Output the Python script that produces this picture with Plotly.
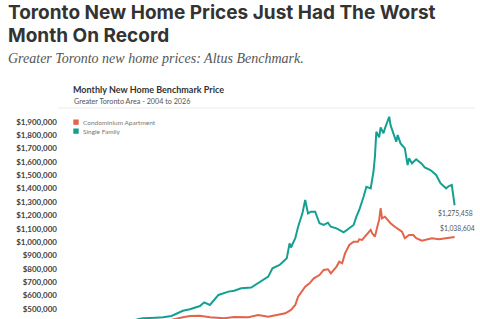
import plotly.graph_objects as go

W, H = 480, 319
ML, MR, MT, MB = 68, 5, 110, 0

# ---- data ----
sf_dates = ["2004-01", "2005-01", "2006-01", "2007-01", "2007-06", "2007-09", "2008-06", "2008-11",
            "2009-05", "2010-01", "2010-06", "2011-01", "2011-04", "2011-08", "2012-02", "2012-09",
            "2013-01", "2013-06", "2014-01", "2014-06", "2015-01", "2015-04", "2015-09", "2016-02",
            "2016-04", "2016-05", "2016-08", "2016-10", "2017-01", "2017-03", "2017-05", "2017-07",
            "2017-10", "2018-01", "2018-04", "2018-07", "2018-09", "2019-01", "2019-06", "2019-09",
            "2020-01", "2020-03", "2020-05", "2020-08", "2020-10", "2021-01", "2021-03", "2021-04",
            "2021-05", "2021-07", "2021-08", "2021-10", "2021-11", "2022-02", "2022-03", "2022-05",
            "2022-07", "2022-08", "2022-10", "2023-01", "2023-02", "2023-03", "2023-04", "2023-06",
            "2023-09", "2024-01", "2024-03", "2024-07", "2024-11", "2025-02", "2025-06", "2025-08",
            "2025-10", "2025-12"]
sf_values = [375000, 385000, 395000, 410000, 425000, 431000, 435000, 438000,
             448000, 487000, 498000, 522000, 550000, 530000, 605000, 630000,
             637000, 655000, 660000, 694000, 742000, 804000, 829000, 879000,
             991000, 960000, 1029000, 1115000, 1215000, 1315000, 1215000, 1227000,
             1227000, 1141000, 1128000, 1145000, 1115000, 1103000, 1073000, 1096000,
             1128000, 1190000, 1240000, 1339000, 1414000, 1402000, 1526000, 1638000,
             1825000, 1783000, 1858000, 1813000, 1850000, 1937000, 1875000, 1813000,
             1750000, 1800000, 1738000, 1701000, 1638000, 1576000, 1626000, 1589000,
             1619000, 1584000, 1559000, 1539000, 1502000, 1440000, 1402000, 1419000,
             1427000, 1275458]

condo_dates = ["2004-01", "2005-01", "2006-01", "2007-01", "2008-01", "2009-01", "2009-09", "2010-01",
               "2010-06", "2011-01", "2011-08", "2012-06", "2013-01", "2013-11", "2014-06", "2015-01",
               "2015-07", "2016-01", "2016-05", "2016-08", "2016-10", "2017-01", "2017-03", "2017-06",
               "2017-09", "2018-01", "2018-04", "2018-07", "2018-09", "2019-01", "2019-03", "2019-05",
               "2019-07", "2019-10", "2020-01", "2020-04", "2020-05", "2020-07", "2020-09", "2020-11",
               "2021-01", "2021-02", "2021-04", "2021-06", "2021-07", "2021-08", "2021-09", "2021-11",
               "2022-01", "2022-03", "2022-06", "2022-09", "2022-11", "2023-01", "2023-04", "2023-07",
               "2023-09", "2024-01", "2024-04", "2024-08", "2025-01", "2025-06", "2025-12"]
condo_values = [300000, 320000, 340000, 370000, 400000, 410000, 425000, 438000,
                448000, 450000, 438000, 431000, 440000, 438000, 455000, 443000,
                455000, 468000, 493000, 530000, 592000, 642000, 667000, 692000,
                729000, 754000, 792000, 797000, 767000, 817000, 854000, 842000,
                916000, 979000, 1003000, 1003000, 1021000, 1016000, 1041000, 1066000,
                1091000, 1066000, 1041000, 1128000, 1166000, 1253000, 1178000, 1190000,
                1166000, 1141000, 1115000, 1091000, 1078000, 1029000, 1053000, 1053000,
                1029000, 1011000, 1021000, 1029000, 1021000, 1031000, 1038604]

series_names = ["Condominium Apartment", "Single Family"]
series_colors = ["#e4634b", "#14a091"]

title_lines = ["Toronto New Home Prices Just Had The Worst", "Month On Record"]
subtitle = "Greater Toronto new home prices: Altus Benchmark."
chart_title = "Monthly New Home Benchmark Price"
chart_subtitle = "Greater Toronto Area - 2004 to 2026"

PH = H - MT - MB
PW = W - ML - MR


def px(x):
    return (x - ML) / PW


def py(y):
    return (H - MB - y) / PH


fig = go.Figure()
fig.add_trace(go.Scatter(x=condo_dates, y=condo_values, mode="lines", name=series_names[0],
                         line=dict(color=series_colors[0], width=2), showlegend=False))
fig.add_trace(go.Scatter(x=sf_dates, y=sf_values, mode="lines", name=series_names[1],
                         line=dict(color=series_colors[1], width=2), showlegend=False))

ann = []
ann.append(dict(text=f"<b>{title_lines[0]}</b>", x=px(6), y=py(12.3), xanchor="left", yanchor="middle",
                font=dict(family="Inter", size=19, color="#333333")))
ann.append(dict(text=f"<b>{title_lines[1]}</b>", x=px(6), y=py(35.5), xanchor="left", yanchor="middle",
                font=dict(family="Inter", size=19, color="#333333")))
ann.append(dict(text=f"<i>{subtitle}</i>", x=px(6), y=py(58.5), xanchor="left", yanchor="middle",
                font=dict(family="Liberation Serif", size=14, color="#555555")))
ann.append(dict(text=f"<b>{chart_title}</b>", x=px(71), y=py(89.5), xanchor="left", yanchor="middle",
                font=dict(family="Lato", size=9, color="#333333")))
ann.append(dict(text=chart_subtitle, x=px(71.5), y=py(101), xanchor="left", yanchor="middle",
                font=dict(family="Lato", size=7.2, color="#555555")))
for i, nm in enumerate(series_names):
    ann.append(dict(text=nm, x=px(81), y=py(122 + 9 * i), xanchor="left", yanchor="middle",
                    font=dict(family="Lato", size=6.5, color="#777777")))
# end-value labels
ann.append(dict(text=f"${sf_values[-1]:,.0f}", x=sf_dates[-1], y=sf_values[-1], xref="x", yref="y",
                xanchor="center", yanchor="top", yshift=-2, xshift=1,
                font=dict(family="Lato", size=6.8, color="#555555")))
ann.append(dict(text=f"${condo_values[-1]:,.0f}", x=condo_dates[-1], y=condo_values[-1], xref="x", yref="y",
                xanchor="center", yanchor="bottom", yshift=2, xshift=3,
                font=dict(family="Lato", size=6.8, color="#555555")))
for a in ann:
    a.setdefault("xref", "paper")
    a.setdefault("yref", "paper")
    a["showarrow"] = False

shapes = [dict(type="line", xref="paper", yref="paper", x0=px(58), x1=px(475), y0=py(108), y1=py(108),
               line=dict(color="#ececec", width=1))]
for i, c in enumerate(series_colors):
    shapes.append(dict(type="rect", xref="paper", yref="paper", x0=px(73.3), x1=px(78.7),
                       y0=py(119.5 + 9 * i), y1=py(124.8 + 9 * i), fillcolor=c, line=dict(width=0)))

fig.update_layout(
    width=W, height=H, margin=dict(l=ML, r=MR, t=MT, b=MB),
    paper_bgcolor="white", plot_bgcolor="white",
    annotations=ann, shapes=shapes,
    xaxis=dict(visible=False, range=["2003-04-10", "2027-02-10"]),
    yaxis=dict(range=[425400, 1987400], dtick=100000, tick0=0, tickprefix="$", tickformat=",d",
               showgrid=False, zeroline=False, showline=False, ticks="", ticklabelstandoff=10,
               tickfont=dict(family="Lato", size=8, color="#444444", weight="bold")),
)
fig.write_html("out.html")
